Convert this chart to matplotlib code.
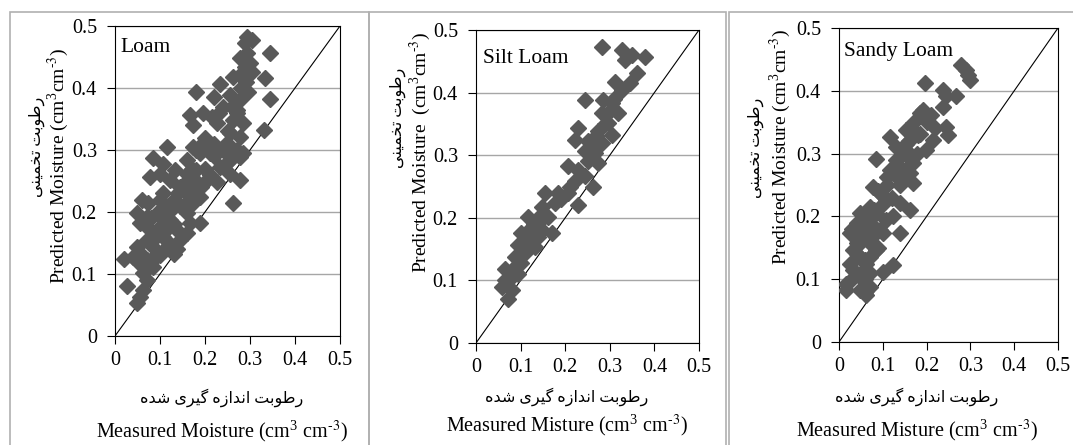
import matplotlib
matplotlib.use('Agg')
import matplotlib.pyplot as plt
from matplotlib.patches import Rectangle

# measured / predicted moisture
loam_x = [0.293, 0.289, 0.304, 0.278, 0.293, 0.344, 0.289, 0.304, 0.278, 0.263,
          0.333, 0.233, 0.181, 0.219, 0.256, 0.296, 0.278, 0.344, 0.241, 0.270,
          0.167, 0.196, 0.215, 0.226, 0.174, 0.263, 0.285, 0.278, 0.330, 0.256,
          0.115, 0.174, 0.196, 0.248, 0.085, 0.107, 0.133, 0.189, 0.211, 0.226,
          0.263, 0.285, 0.256, 0.278, 0.078, 0.100, 0.122, 0.159, 0.181, 0.204,
          0.256, 0.278, 0.107, 0.144, 0.159, 0.189, 0.174, 0.263, 0.059, 0.074,
          0.048, 0.070, 0.093, 0.115, 0.130, 0.144, 0.159, 0.122, 0.100, 0.056,
          0.078, 0.137, 0.167, 0.189, 0.159, 0.107, 0.070, 0.048, 0.085, 0.115,
          0.144, 0.093, 0.130, 0.137, 0.019, 0.041, 0.070, 0.085, 0.063, 0.070,
          0.026, 0.063, 0.056, 0.048, 0.159, 0.226, 0.233, 0.174,
          0.090, 0.110, 0.120, 0.100, 0.080, 0.130, 0.150, 0.170, 0.180, 0.200,
          0.220, 0.170, 0.140, 0.120, 0.100, 0.060, 0.050, 0.080, 0.110, 0.160,
          0.190, 0.210, 0.240, 0.250, 0.270, 0.280, 0.260, 0.230, 0.200, 0.180,
          0.270, 0.250, 0.220, 0.290, 0.300]
loam_y = [0.483, 0.472, 0.477, 0.448, 0.456, 0.456, 0.434, 0.426, 0.421, 0.418,
          0.416, 0.407, 0.394, 0.386, 0.389, 0.394, 0.381, 0.383, 0.370, 0.365,
          0.356, 0.359, 0.354, 0.343, 0.340, 0.348, 0.343, 0.321, 0.332, 0.327,
          0.305, 0.305, 0.311, 0.311, 0.287, 0.278, 0.268, 0.295, 0.295, 0.297,
          0.300, 0.295, 0.284, 0.289, 0.257, 0.262, 0.252, 0.262, 0.268, 0.252,
          0.262, 0.252, 0.230, 0.241, 0.230, 0.225, 0.214, 0.214, 0.219, 0.214,
          0.198, 0.192, 0.198, 0.206, 0.219, 0.209, 0.198, 0.187, 0.176, 0.182,
          0.171, 0.171, 0.182, 0.182, 0.166, 0.160, 0.155, 0.144, 0.144, 0.144,
          0.155, 0.133, 0.133, 0.141, 0.125, 0.128, 0.123, 0.112, 0.101, 0.090,
          0.080, 0.074, 0.063, 0.053, 0.284, 0.249, 0.273, 0.241,
          0.160, 0.170, 0.200, 0.220, 0.190, 0.180, 0.210, 0.230, 0.250, 0.270,
          0.290, 0.270, 0.230, 0.150, 0.130, 0.130, 0.120, 0.120, 0.190, 0.250,
          0.240, 0.260, 0.300, 0.330, 0.360, 0.400, 0.370, 0.360, 0.320, 0.300,
          0.300, 0.280, 0.310, 0.410, 0.440]

silt_x = [0.282, 0.327, 0.349, 0.379, 0.334, 0.360, 0.345, 0.312, 0.327, 0.244,
          0.285, 0.304, 0.319, 0.282, 0.297, 0.274, 0.304, 0.229, 0.222, 0.252,
          0.282, 0.267, 0.244, 0.274, 0.207, 0.229, 0.244, 0.263, 0.222, 0.155,
          0.184, 0.207, 0.177, 0.229, 0.147, 0.117, 0.140, 0.162, 0.125, 0.102,
          0.147, 0.170, 0.117, 0.095, 0.132, 0.110, 0.087, 0.065, 0.087, 0.080,
          0.058, 0.080, 0.072, 0.095, 0.065, 0.102, 0.140,
          0.120, 0.130, 0.150, 0.190, 0.210, 0.250, 0.260, 0.290, 0.300, 0.310,
          0.270]
silt_y = [0.473, 0.468, 0.460, 0.457, 0.452, 0.431, 0.415, 0.417, 0.404, 0.388,
          0.388, 0.383, 0.367, 0.367, 0.351, 0.338, 0.332, 0.343, 0.324, 0.322,
          0.319, 0.303, 0.306, 0.287, 0.282, 0.276, 0.266, 0.250, 0.258, 0.239,
          0.239, 0.239, 0.223, 0.220, 0.218, 0.202, 0.199, 0.202, 0.186, 0.175,
          0.180, 0.175, 0.165, 0.157, 0.154, 0.143, 0.138, 0.119, 0.122, 0.106,
          0.090, 0.085, 0.071, 0.111, 0.101, 0.127, 0.170,
          0.170, 0.190, 0.200, 0.230, 0.250, 0.290, 0.310, 0.350, 0.370, 0.390,
          0.330]

sandy_x = [0.279, 0.291, 0.298, 0.295, 0.196, 0.237, 0.245, 0.268, 0.237, 0.192,
           0.210, 0.245, 0.169, 0.154, 0.116, 0.184, 0.249, 0.215, 0.131, 0.154,
           0.177, 0.199, 0.085, 0.169, 0.116, 0.139, 0.110, 0.161, 0.169, 0.139,
           0.078, 0.093, 0.108, 0.139, 0.161, 0.047, 0.070, 0.085, 0.040, 0.062,
           0.078, 0.093, 0.139, 0.024, 0.047, 0.070, 0.085, 0.032, 0.047, 0.062,
           0.024, 0.040, 0.017, 0.017, 0.047, 0.070, 0.062, 0.100, 0.123, 0.055,
           0.040, 0.055, 0.032, 0.070, 0.100, 0.123, 0.108, 0.184, 0.154,
           0.030, 0.050, 0.060, 0.040, 0.050, 0.030, 0.060, 0.070, 0.050, 0.080,
           0.100, 0.090, 0.110, 0.120, 0.130, 0.150, 0.160, 0.180, 0.200, 0.220,
           0.140, 0.120, 0.070, 0.060, 0.090, 0.080]
sandy_y = [0.441, 0.433, 0.417, 0.425, 0.412, 0.401, 0.391, 0.391, 0.375, 0.369,
           0.361, 0.343, 0.348, 0.338, 0.327, 0.332, 0.330, 0.322, 0.311, 0.306,
           0.300, 0.306, 0.292, 0.285, 0.274, 0.279, 0.263, 0.269, 0.253, 0.258,
           0.247, 0.237, 0.226, 0.221, 0.210, 0.205, 0.215, 0.205, 0.189, 0.194,
           0.184, 0.178, 0.173, 0.173, 0.168, 0.157, 0.146, 0.146, 0.136, 0.125,
           0.125, 0.109, 0.093, 0.083, 0.083, 0.088, 0.075, 0.112, 0.123, 0.099,
           0.157, 0.178, 0.115, 0.136, 0.173, 0.200, 0.194, 0.364, 0.316,
           0.100, 0.110, 0.130, 0.140, 0.160, 0.180, 0.170, 0.190, 0.190, 0.210,
           0.220, 0.240, 0.250, 0.270, 0.290, 0.300, 0.320, 0.330, 0.350, 0.340,
           0.250, 0.230, 0.110, 0.100, 0.150, 0.170]

ticks = [0, 0.1, 0.2, 0.3, 0.4, 0.5]
tick_labels = ['0', '0.1', '0.2', '0.3', '0.4', '0.5']
soil_names = ['Loam', 'Silt Loam', 'Sandy Loam']

unit = r'(cm$^{\mathregular{3}}$cm$^{\text{-3}}$)'
unit_sp = r'(cm$^{\mathregular{3}}$ cm$^{\text{-3}}$)'
ylabels = ['Predicted Moisture ' + unit, 'Predicted Moisture  ' + unit,
           'Predicted Moisture ' + unit]
xlabels = ['Measured Moisture ' + unit_sp, 'Measured Misture ' + unit_sp,
           'Measured Misture ' + unit_sp]
fa_ylabel = 'رطوبت تخمینی'
fa_xlabel = 'رطوبت اندازه گیری شده'

# presentation forms (isolated, final, initial, medial)
FORMS = {
    'ا': ('\uFE8D', '\uFE8E'),
    'ب': ('\uFE8F', '\uFE90', '\uFE91', '\uFE92'),
    'ت': ('\uFE95', '\uFE96', '\uFE97', '\uFE98'),
    'خ': ('\uFEA5', '\uFEA6', '\uFEA7', '\uFEA8'),
    'د': ('\uFEA9', '\uFEAA'),
    'ر': ('\uFEAD', '\uFEAE'),
    'ز': ('\uFEAF', '\uFEB0'),
    'ش': ('\uFEB5', '\uFEB6', '\uFEB7', '\uFEB8'),
    'ط': ('\uFEC1', '\uFEC2', '\uFEC3', '\uFEC4'),
    'م': ('\uFEE1', '\uFEE2', '\uFEE3', '\uFEE4'),
    'ن': ('\uFEE5', '\uFEE6', '\uFEE7', '\uFEE8'),
    'ه': ('\uFEE9', '\uFEEA', '\uFEEB', '\uFEEC'),
    'و': ('\uFEED', '\uFEEE'),
    'گ': ('\uFB92', '\uFB93', '\uFB94', '\uFB95'),
    'ی': ('\uFBFC', '\uFBFD', '\uFBFE', '\uFBFF'),
}


def shape_fa(text):
    """join persian letters and put them in visual (left to right) order"""
    out = []
    for i, c in enumerate(text):
        if c not in FORMS:
            out.append(c)
            continue
        prev_j = i > 0 and text[i-1] in FORMS and len(FORMS[text[i-1]]) == 4
        next_j = (len(FORMS[c]) == 4 and i+1 < len(text)
                  and text[i+1] in FORMS)
        if prev_j and next_j:
            out.append(FORMS[c][3])
        elif prev_j:
            out.append(FORMS[c][1])
        elif next_j:
            out.append(FORMS[c][2])
        else:
            out.append(FORMS[c][0])
    return ''.join(reversed(out))


W, H = 1073, 445
plt.rcParams['font.family'] = ['Liberation Serif', 'DejaVu Sans']
plt.rcParams['mathtext.fontset'] = 'stix'

fig = plt.figure(figsize=(W/100, H/100), dpi=100)


def px(x, y):
    return x / W, 1 - y / H


# panel frames (gray boxes)
for x0, x1 in [(10, 369), (369, 726), (729, 1080)]:
    fig.patches.append(Rectangle(px(x0, 460), (x1-x0)/W, (460-12)/H,
                                 transform=fig.transFigure, fill=False,
                                 edgecolor='#b0b0b0', lw=1.2))

# axes boxes in pixels: left, right, top, bottom
boxes = [(115, 340, 26, 336), (476, 699, 30, 343), (839, 1058, 28, 342)]
data = [(loam_x, loam_y), (silt_x, silt_y), (sandy_x, sandy_y)]
name_pos = [(0.022, 0.93), (0.031, 0.91), (0.023, 0.924)]
# label positions: english y-label x, centre y, persian y-label x, centre y,
# x-label centre, persian x-label y, english x-label y
lab_pos = [(58, 166, 37, 147, 222, 398, 431),
           (420, 152, 398, 118, 567, 397, 425),
           (780, 147, 756, 148, 917, 397, 430)]

for k in range(3):
    l, r, t, b = boxes[k]
    left, bottom = px(l, b)
    ax = fig.add_axes([left, bottom, (r-l)/W, (b-t)/H])
    xs, ys = data[k]
    ax.plot([0, 0.5], [0, 0.5], color='black', lw=0.8, zorder=2)
    ax.plot(xs, ys, linestyle='none', marker='D', ms=8.3, color='#595959',
            markeredgecolor='#595959', zorder=3)
    ax.set_xlim(0, 0.5)
    ax.set_ylim(0, 0.5)
    ax.set_xticks(ticks)
    ax.set_xticklabels(tick_labels)
    ax.set_yticks(ticks)
    ax.set_yticklabels(tick_labels)
    ax.yaxis.grid(True, color='#a6a6a6', lw=1)
    ax.set_axisbelow(True)
    ax.tick_params(labelsize=14.5, length=6, width=0.8, direction='out')
    ax.tick_params(axis='y', pad=7)
    ax.tick_params(axis='x', pad=5)
    for s in ax.spines.values():
        s.set_linewidth(0.8)
    ax.text(name_pos[k][0], name_pos[k][1], soil_names[k], fontsize=15.5,
            transform=ax.transAxes, va='center', ha='left')

    ylx, yly, fyx, fyy, xlx, fxy, exy = lab_pos[k]
    fig.text(*px(ylx, yly), ylabels[k], rotation=90, fontsize=14,
             ha='center', va='center')
    fig.text(*px(fyx, fyy), shape_fa(fa_ylabel), rotation=90, fontsize=11.5,
             ha='center', va='center')
    fig.text(*px(xlx, fxy), shape_fa(fa_xlabel), fontsize=11.5,
             ha='center', va='center')
    fig.text(*px(xlx, exy), xlabels[k], fontsize=14.5,
             ha='center', va='center')

fig.savefig('out.png', dpi=100)
